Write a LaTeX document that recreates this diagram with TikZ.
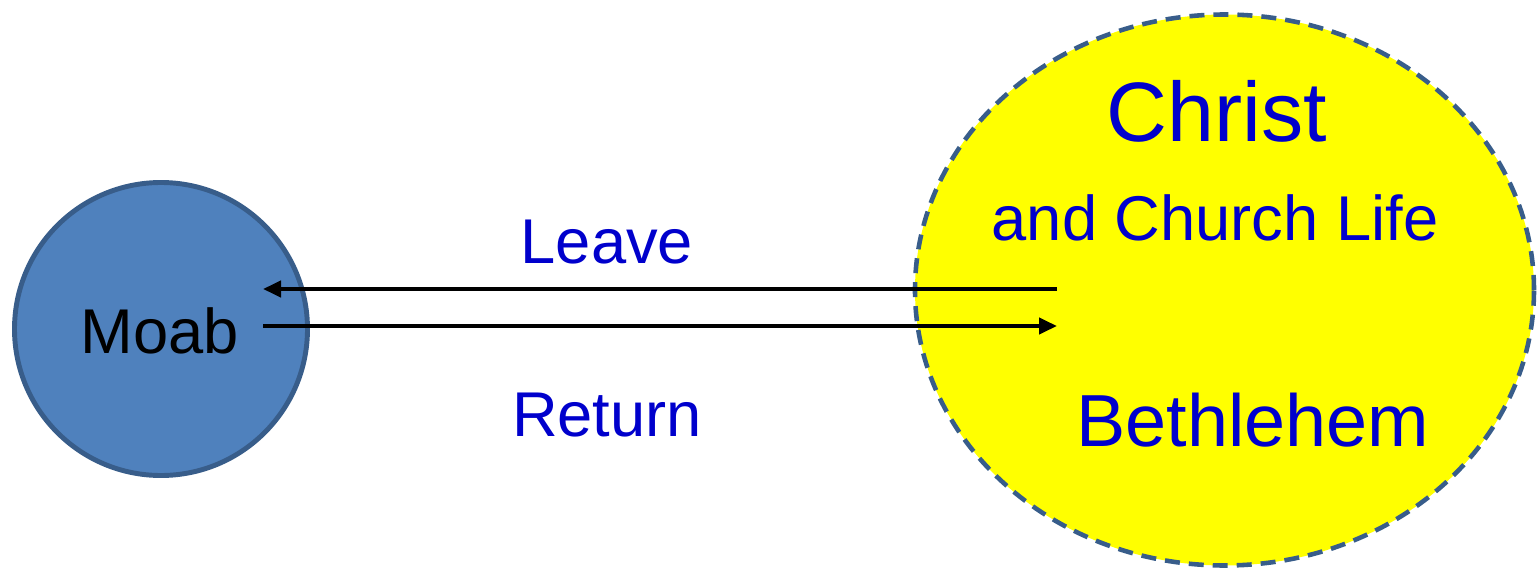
\documentclass[tikz,border=0pt]{standalone}
\usepackage{fontspec}
\setmainfont{Liberation Sans}
\usepackage{tikz}
\usetikzlibrary{shapes.geometric,arrows.meta,positioning,calc}
\definecolor{moabblue}{HTML}{4F81BD}
\definecolor{moabedge}{HTML}{385D8A}
\definecolor{landyellow}{HTML}{FFFF00}
\definecolor{labelblue}{HTML}{0000CC}

\begin{document}
\begin{tikzpicture}[
  place/.style={circle,draw=moabedge,fill=moabblue,line width=1.4pt,
                minimum size=2.93cm,inner sep=0pt},
  land/.style={ellipse,draw=moabedge,fill=landyellow,line width=1.3pt,
               dash pattern=on 0.15cm off 0.09cm,
               minimum width=6.19cm,minimum height=5.51cm,inner sep=0pt},
  word/.style={font=\fontsize{#1}{#1}\selectfont,text=labelblue,anchor=base,inner sep=0pt},
  arrow/.style={-{Triangle[length=0.18cm,width=0.16cm]},line width=1.2pt,color=black}
]
\useasboundingbox (0,0) rectangle (15.38,5.71);
\node[land] (bethlehem) at (12.245,2.81) {};
\node[place] (moab) at (1.61,2.42) {};
\node[word=18pt,text=black] (moabtext) at (1.60,2.18) {Moab};
\node[word=24pt] (christ) at (12.17,4.29) {Christ};
\node[word=18pt] (church) at (12.15,3.30) {and Church Life};
\node[word=21pt] (bethtext) at (12.53,1.25) {Bethlehem};
\coordinate (leavestart) at (10.57,2.82);
\coordinate (leaveend) at (2.63,2.82);
\coordinate (returnstart) at (2.63,2.45);
\coordinate (returnend) at (10.57,2.45);
\draw[arrow] (leavestart) -- (leaveend);
\draw[arrow] (returnstart) -- (returnend);
\node[word=18pt] (leave) at (6.07,3.08) {Leave};
\node[word=18pt] (return) at (6.07,1.35) {Return};
\end{tikzpicture}
\end{document}
